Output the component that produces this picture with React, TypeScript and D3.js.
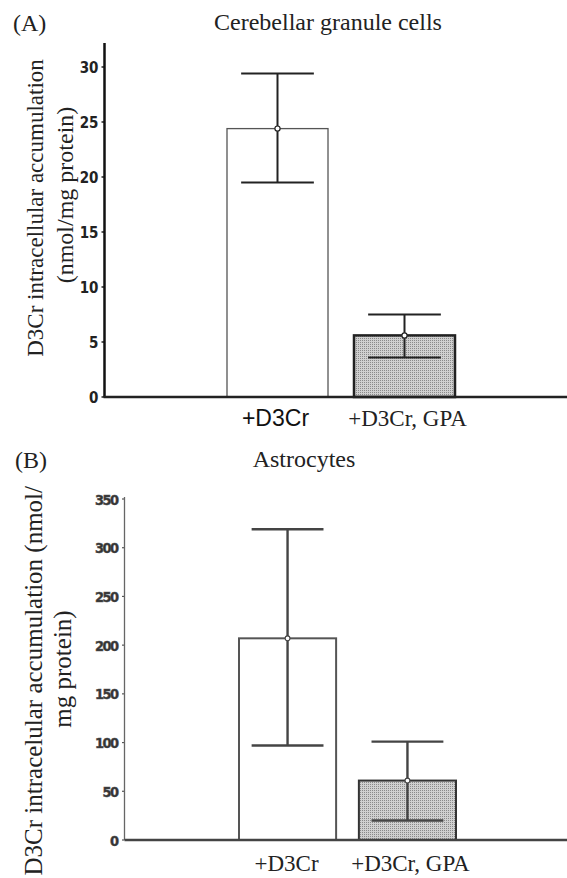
import React from "react";
import * as d3 from "d3";

// Panel A: Cerebellar granule cells
const categoriesA = ["+D3Cr", "+D3Cr, GPA"];
const meansA = [24.4, 5.6];
const upperA = [29.4, 7.5];
const lowerA = [19.5, 3.6];
const ticksA = [0, 5, 10, 15, 20, 25, 30];

// Panel B: Astrocytes
const categoriesB = ["+D3Cr", "+D3Cr, GPA"];
const meansB = [207, 61];
const upperB = [319, 101];
const lowerB = [97, 20];
const ticksB = [0, 50, 100, 150, 200, 250, 300, 350];

const SERIF = "'Liberation Serif', 'Times New Roman', serif";
const SANS = "'Liberation Sans', Arial, sans-serif";
const COND = "'DejaVu Sans Condensed', 'DejaVu Sans', sans-serif";

export default function App() {
  // ---------- Panel A ----------
  const yA = d3.scaleLinear().domain([0, 30]).range([397, 67]);
  const xA = d3.scaleBand().domain(categoriesA).range([227, 455]).paddingInner(0.2047);
  const axisXA = 104.5;
  const bwA = xA.bandwidth();

  // ---------- Panel B ----------
  const yB = d3.scaleLinear().domain([0, 350]).range([840, 499]);
  const xB = d3.scaleBand().domain(categoriesB).range([239, 456]).paddingInner(0.19);
  const axisXB = 124.5;
  const bwB = xB.bandwidth();

  return (
    <svg
      width={567}
      height={878}
      style={{ position: "absolute", left: 0, top: 0, background: "#fff" }}
    >
      <defs>
        <pattern id="stip" width={2} height={2} patternUnits="userSpaceOnUse">
          <rect width={2} height={2} fill="#d0d0d0" />
          <rect width={1} height={1} fill="#8a8a8a" />
        </pattern>
      </defs>

      {/* ================= Panel A ================= */}
      <text x={13} y={31} fontFamily={SERIF} fontSize={24} fill="#222">(A)</text>
      <text x={328} y={30} fontFamily={SERIF} fontSize={24} fill="#222" textAnchor="middle">
        Cerebellar granule cells
      </text>
      <text
        transform="translate(43,208) rotate(-90)"
        fontFamily={SERIF}
        fontSize={23}
        fill="#222"
        textAnchor="middle"
      >
        D3Cr intracellular accumulation
      </text>
      <text
        transform="translate(73,195) rotate(-90)"
        fontFamily={SERIF}
        fontSize={24}
        fill="#222"
        textAnchor="middle"
      >
        (nmol/mg protein)
      </text>

      {/* y ticks A */}
      {ticksA.map((t) => (
        <g key={"ta" + t}>
          <line x1={axisXA - 3} x2={axisXA} y1={yA(t)} y2={yA(t)} stroke="#222" strokeWidth={1.5} />
          <text
            x={axisXA - 6}
            y={yA(t) + 5.5}
            textAnchor="end"
            fontFamily={COND}
            fontWeight="bold"
            fontSize={15}
            fill="#222"
          >
            {t}
          </text>
        </g>
      ))}

      {/* bars A */}
      {categoriesA.map((c, i) => {
        const x0 = xA(c)!;
        const grey = i === 1;
        return (
          <rect
            key={"ba" + c}
            x={x0}
            y={yA(meansA[i])}
            width={bwA}
            height={yA(0) - yA(meansA[i])}
            fill={grey ? "url(#stip)" : "#fff"}
            stroke={grey ? "#222" : "#555"}
            strokeWidth={grey ? 2.5 : 1.3}
          />
        );
      })}
      {/* error bars A */}
      {categoriesA.map((c, i) => {
        const cx = xA(c)! + bwA / 2;
        const cw = bwA * 0.36;
        return (
          <g key={"ea" + c} stroke="#222" strokeWidth={2}>
            <line x1={cx} x2={cx} y1={yA(upperA[i])} y2={yA(lowerA[i])} />
            <line x1={cx - cw} x2={cx + cw} y1={yA(upperA[i])} y2={yA(upperA[i])} />
            <line x1={cx - cw} x2={cx + cw} y1={yA(lowerA[i])} y2={yA(lowerA[i])} />
            <circle cx={cx} cy={yA(meansA[i])} r={2.6} fill="#fff" strokeWidth={1.2} />
          </g>
        );
      })}

      {/* axes A */}
      <line x1={axisXA} x2={axisXA} y1={43} y2={yA(0)} stroke="#111" strokeWidth={2.5} />
      <line x1={axisXA - 1} x2={567} y1={yA(0)} y2={yA(0)} stroke="#222" strokeWidth={2.5} />

      {/* category labels A */}
      <text
        x={xA(categoriesA[0])! + bwA / 2 - 2}
        y={426}
        textAnchor="middle"
        fontFamily={SANS}
        fontSize={23}
        fill="#111"
      >
        {categoriesA[0]}
      </text>
      <text
        x={xA(categoriesA[1])! + bwA / 2 + 3}
        y={426}
        textAnchor="middle"
        fontFamily={SERIF}
        fontSize={23}
        fill="#222"
      >
        {categoriesA[1]}
      </text>

      {/* ================= Panel B ================= */}
      <text x={15} y={468} fontFamily={SERIF} fontSize={24} fill="#222">(B)</text>
      <text x={304} y={467} fontFamily={SERIF} fontSize={24} fill="#222" textAnchor="middle">
        Astrocytes
      </text>
      <text
        transform="translate(42,486) rotate(-90)"
        fontFamily={SERIF}
        fontSize={25}
        fill="#222"
        textAnchor="end"
      >
        D3Cr intracelular accumulation (nmol/
      </text>
      <text
        transform="translate(71,669) rotate(-90)"
        fontFamily={SERIF}
        fontSize={25}
        fill="#222"
        textAnchor="middle"
      >
        mg protein)
      </text>

      {/* y ticks B */}
      {ticksB.map((t) => (
        <g key={"tb" + t}>
          <line x1={axisXB - 2.5} x2={axisXB} y1={yB(t)} y2={yB(t)} stroke="#555" strokeWidth={1.2} />
          <text
            x={axisXB - 7}
            y={yB(t) + 5.5}
            textAnchor="end"
            fontFamily={COND}
            fontWeight="bold"
            fontSize={14.5}
            letterSpacing={-1.6}
            fill="#333"
            stroke="#555"
            strokeWidth={0.5}
          >
            {t}
          </text>
        </g>
      ))}

      {/* bars B */}
      {categoriesB.map((c, i) => {
        const x0 = xB(c)!;
        const grey = i === 1;
        return (
          <rect
            key={"bb" + c}
            x={x0}
            y={yB(meansB[i])}
            width={bwB}
            height={yB(0) - yB(meansB[i])}
            fill={grey ? "url(#stip)" : "#fff"}
            stroke={grey ? "#333" : "#555"}
            strokeWidth={2}
          />
        );
      })}
      {/* error bars B */}
      {categoriesB.map((c, i) => {
        const cx = xB(c)! + bwB / 2;
        const cw = bwB * 0.37;
        return (
          <g key={"eb" + c} stroke="#444" strokeWidth={2.4}>
            <line x1={cx} x2={cx} y1={yB(upperB[i])} y2={yB(lowerB[i])} />
            <line x1={cx - cw} x2={cx + cw} y1={yB(upperB[i])} y2={yB(upperB[i])} />
            <line x1={cx - cw} x2={cx + cw} y1={yB(lowerB[i])} y2={yB(lowerB[i])} />
            <circle cx={cx} cy={yB(meansB[i])} r={2.4} fill="#fff" strokeWidth={1.1} />
          </g>
        );
      })}

      {/* axes B */}
      <line x1={axisXB} x2={axisXB} y1={497} y2={yB(0)} stroke="#666" strokeWidth={1.3} />
      <line x1={axisXB} x2={567} y1={yB(0)} y2={yB(0)} stroke="#444" strokeWidth={2.4} />

      {/* category labels B */}
      {categoriesB.map((c, i) => (
        <text
          key={"lb" + c}
          x={xB(c)! + bwB / 2 + (i === 0 ? -1 : 3)}
          y={871}
          textAnchor="middle"
          fontFamily={SERIF}
          fontSize={23}
          fill="#222"
        >
          {c}
        </text>
      ))}
    </svg>
  );
}
